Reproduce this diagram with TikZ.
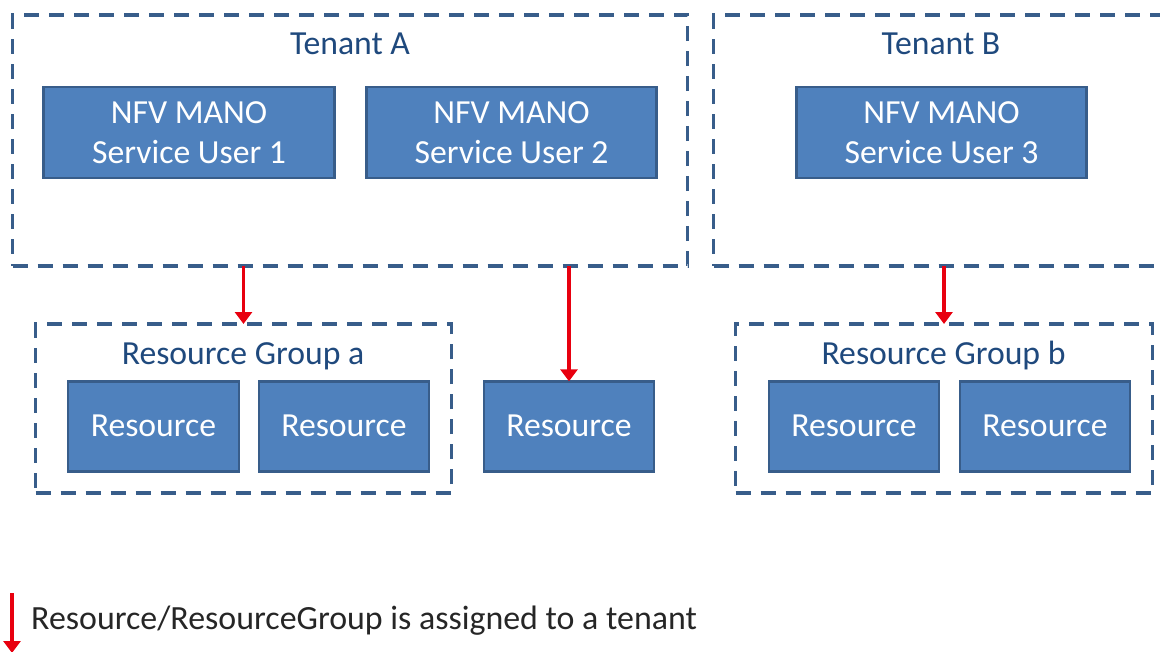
\documentclass[tikz,border=0pt]{standalone}
\usepackage{fontspec}
\setmainfont{Carlito}
\usetikzlibrary{arrows.meta,calc}
\definecolor{fillblue}{HTML}{4F81BD}
\definecolor{edgeblue}{HTML}{385D8A}
\definecolor{textblue}{HTML}{1F497D}
\definecolor{arrowred}{HTML}{E8000F}
\tikzset{
  x=1pt,y=-1pt,
  solidbox/.style={draw=edgeblue,fill=fillblue,line width=2.8pt,text=white,font=\fontsize{33.7}{40}\selectfont,align=center,inner sep=0pt,outer sep=0pt,anchor=center},
  dashbox/.style={draw=edgeblue,line width=3.4pt,dash pattern=on 15pt off 10pt,inner sep=0pt,outer sep=0pt,anchor=center},
  grouptitle/.style={text=textblue,font=\fontsize{33.7}{40}\selectfont,inner sep=0pt,anchor=base},
  assign/.style={draw=arrowred,line width=3.6pt,-{Triangle[length=12pt,width=17pt]}},
}
\begin{document}
\begin{tikzpicture}
\useasboundingbox (0,0) rectangle (1160,651);
\clip (0,0) rectangle (1160,651);
\node[dashbox,minimum width=675pt,minimum height=251pt] (tenantA) at (350,140.5) {};
\node[dashbox,minimum width=500pt,minimum height=251pt] (tenantB) at (963.5,140.5) {};
\node[grouptitle] (titleA) at (350,54) {Tenant A};
\node[grouptitle] (titleB) at (941,54) {Tenant B};
\node[solidbox,minimum width=291pt,minimum height=91pt] (su1) at (189,132.5) {NFV MANO\\Service User 1};
\node[solidbox,minimum width=290.5pt,minimum height=91pt] (su2) at (511.5,132.5) {NFV MANO\\Service User 2};
\node[solidbox,minimum width=290.5pt,minimum height=91pt] (su3) at (941.5,132.5) {NFV MANO\\Service User 3};
\node[dashbox,minimum width=416pt,minimum height=169pt] (groupa) at (243.5,408.5) {};
\node[dashbox,minimum width=417pt,minimum height=169pt] (groupb) at (944,408.5) {};
\node[grouptitle] (titlea) at (243,364.5) {Resource Group a};
\node[grouptitle] (titleb) at (943.5,364.5) {Resource Group b};
\node[solidbox,minimum width=171pt,minimum height=90pt] (r1) at (153.5,426.3) {Resource};
\node[solidbox,minimum width=170pt,minimum height=90pt] (r2) at (344,426.3) {Resource};
\node[solidbox,minimum width=170pt,minimum height=90pt] (r3) at (569,426.3) {Resource};
\node[solidbox,minimum width=170pt,minimum height=90pt] (r4) at (854,426.3) {Resource};
\node[solidbox,minimum width=170pt,minimum height=90pt] (r5) at (1045,426.3) {Resource};
\draw[assign] (tenantA.south -| groupa.north) -- (groupa.north);
\draw[assign] (tenantA.south -| r3.north) -- (r3.north);
\draw[assign] (tenantB.south -| groupb.north) -- (groupb.north);
\coordinate (legendtop) at (12,593);
\coordinate (legendtip) at (12,653);
\draw[assign] (legendtop) -- (legendtip);
\node[text=black!85,font=\fontsize{33.9}{40}\selectfont,inner sep=0pt,anchor=west] (legend) at (31,621) {Resource/ResourceGroup is assigned to a tenant};
\end{tikzpicture}
\end{document}
